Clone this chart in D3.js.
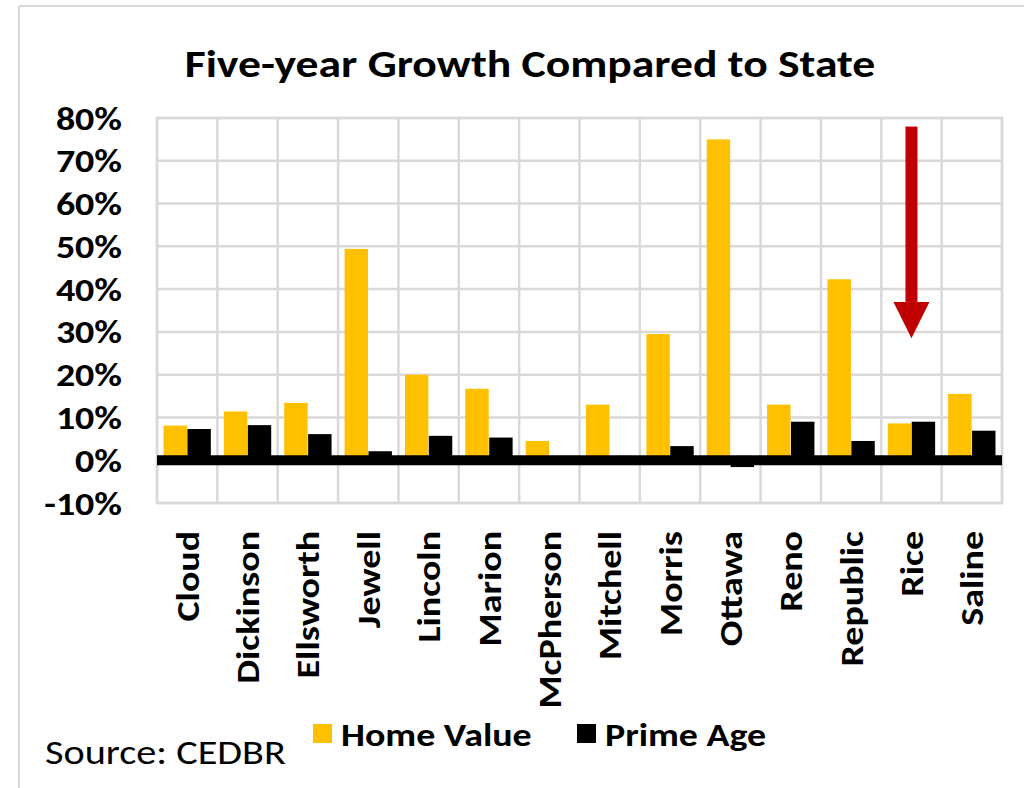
<!DOCTYPE html>
<html>
<head>
<meta charset="utf-8">
<script src="https://cdn.jsdelivr.net/npm/d3@7/dist/d3.min.js"></script>
<style>
  html, body { margin: 0; padding: 0; background: #fff; }
  svg { display: block; }
  text { font-family: Carlito, Lato, "Open Sans", sans-serif; }
</style>
</head>
<body>
<svg id="chart" width="1024" height="788"></svg>
<script>
const categories = ["Cloud","Dickinson","Ellsworth","Jewell","Lincoln","Marion","McPherson","Mitchell","Morris","Ottawa","Reno","Republic","Rice","Saline"];
const homeValue = [8.1, 11.4, 13.4, 49.4, 20.0, 16.7, 4.5, 13.0, 29.5, 75.0, 13.0, 42.3, 8.6, 15.5];
const primeAge  = [7.3, 8.2, 6.1, 2.1, 5.7, 5.3, 0.0, 0.0, 3.3, -1.6, 9.0, 4.5, 9.0, 6.9];
const yTicks = [-10, 0, 10, 20, 30, 40, 50, 60, 70, 80];
const seriesNames = ["Home Value", "Prime Age"];
const seriesColors = ["#FFC000", "#000000"];
const titleText = "Five-year Growth Compared to State";
const sourceText = "Source: CEDBR";
const highlight = "Rice";

const SX = 1.15; // horizontal stretch to mimic the wider reference face

const svg = d3.select("#chart");
const L = 157, R = 1002, T = 118, B = 503;

// outer frame lines
svg.append("line").attr("x1", 19).attr("x2", 1024).attr("y1", 6).attr("y2", 6)
  .attr("stroke", "#d9d9d9").attr("stroke-width", 2);
svg.append("line").attr("x1", 19).attr("x2", 19).attr("y1", 6).attr("y2", 788)
  .attr("stroke", "#d9d9d9").attr("stroke-width", 2);

const x = d3.scaleBand().domain(categories).range([L, R]).paddingInner(0.2).paddingOuter(0.1);
const xs = d3.scaleBand().domain(seriesNames).range([0, x.bandwidth()]).padding(0.02);
const y = d3.scaleLinear().domain([-10, 80]).range([B, T]);

const step = x.step();
// horizontal gridlines
svg.append("g").selectAll("line").data(yTicks).join("line")
  .attr("x1", L).attr("x2", R).attr("y1", d => y(d)).attr("y2", d => y(d))
  .attr("stroke", "#d9d9d9").attr("stroke-width", 2.5);
// vertical gridlines at category boundaries
const bounds = categories.map(c => x(c) - x.paddingInner() * step / 2);
bounds.push(R);
svg.append("g").selectAll("line").data(bounds).join("line")
  .attr("x1", d => d).attr("x2", d => d).attr("y1", T).attr("y2", B)
  .attr("stroke", "#d9d9d9").attr("stroke-width", 2.5);
// plot frame
svg.append("rect").attr("x", L).attr("y", T).attr("width", R - L).attr("height", B - T)
  .attr("fill", "none").attr("stroke", "#d9d9d9").attr("stroke-width", 2.5);

// bars
const data = categories.map((c, i) => ({c, vals: [homeValue[i], primeAge[i]]}));
const g = svg.append("g");
data.forEach(d => {
  d.vals.forEach((v, k) => {
    g.append("rect")
      .attr("x", x(d.c) + xs(seriesNames[k]))
      .attr("width", xs.bandwidth())
      .attr("y", Math.min(y(v), y(0)))
      .attr("height", Math.abs(y(v) - y(0)))
      .attr("fill", seriesColors[k]);
  });
});

// zero axis line (thick)
svg.append("line").attr("x1", L).attr("x2", R).attr("y1", y(0)).attr("y2", y(0))
  .attr("stroke", "#000").attr("stroke-width", 10);

// y axis labels
svg.append("g").selectAll("text").data(yTicks).join("text")
  .attr("transform", d => `translate(122,${y(d)}) scale(${SX},1)`)
  .attr("dy", "0.35em")
  .attr("text-anchor", "end").attr("font-weight", "bold").attr("font-size", 33)
  .attr("fill", "#000").text(d => d + "%");

// category labels
svg.append("g").selectAll("text").data(categories).join("text")
  .attr("transform", d => `translate(${x(d) + x.bandwidth() / 2},531) rotate(-90) scale(${SX},1)`)
  .attr("dy", "0.35em")
  .attr("text-anchor", "end").attr("font-weight", "bold").attr("font-size", 33)
  .attr("fill", "#000").text(d => d);

// title
svg.append("text").attr("transform", `translate(530,77) scale(1.17,1)`).attr("text-anchor", "middle")
  .attr("font-weight", "bold").attr("font-size", 39).attr("fill", "#000").text(titleText);

// arrow annotation on highlighted category
const ax = x(highlight) + x.bandwidth() / 2;
svg.append("rect").attr("x", ax - 6).attr("width", 12).attr("y", y(78)).attr("height", y(37) - y(78))
  .attr("fill", "#C00000");
svg.append("path")
  .attr("d", `M${ax - 18},${y(37)} L${ax + 18},${y(37)} L${ax},${y(28.5)} Z`)
  .attr("fill", "#C00000");

// legend
const legX = [313, 577];
seriesNames.forEach((n, k) => {
  svg.append("rect").attr("x", legX[k]).attr("y", 724).attr("width", 19).attr("height", 19)
    .attr("fill", seriesColors[k]);
  svg.append("text").attr("transform", `translate(${legX[k] + 28},746) scale(${SX},1)`)
    .attr("font-weight", "bold")
    .attr("font-size", 33).attr("fill", "#000").text(n);
});

// source
svg.append("text").attr("transform", `translate(45,764) scale(${SX},1)`)
  .attr("font-size", 35).attr("fill", "#000").text(sourceText);
</script>
</body>
</html>
